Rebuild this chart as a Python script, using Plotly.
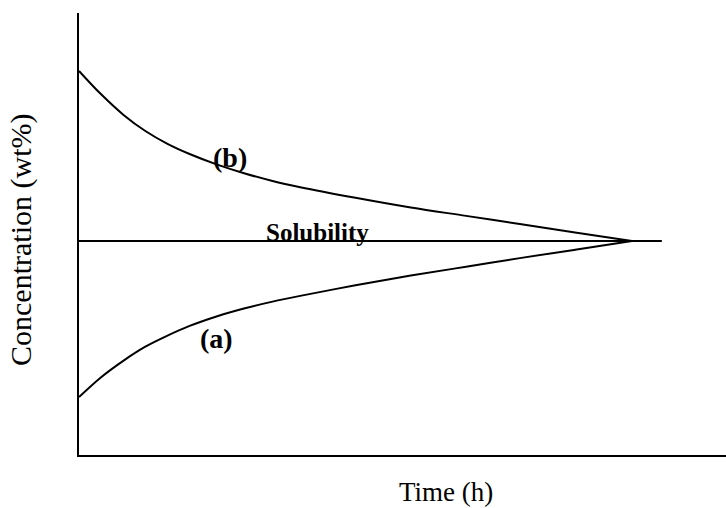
import plotly.graph_objects as go

# Time (h), arbitrary units
time_h = [0, 0.4, 0.8, 1.2, 1.6, 2.0, 2.5, 3.0, 3.5, 4, 5, 6, 7, 8, 9, 10]
conc_b = [8.69, 8.16, 7.70, 7.33, 7.04, 6.81, 6.57, 6.37, 6.20, 6.06, 5.82, 5.60, 5.41, 5.22, 5.03, 4.84]
conc_a = [1.31, 1.76, 2.13, 2.45, 2.70, 2.92, 3.14, 3.32, 3.47, 3.60, 3.84, 4.06, 4.26, 4.46, 4.65, 4.84]
sol_time = [0, 10.54]
sol_conc = [4.84, 4.84]

FONT = "Liberation Serif"
line_style = dict(color="black", width=2)

fig = go.Figure()
fig.add_trace(go.Scatter(x=time_h, y=conc_b, mode="lines",
                         line=dict(shape="spline", smoothing=1.0, **line_style)))
fig.add_trace(go.Scatter(x=time_h, y=conc_a, mode="lines",
                         line=dict(shape="spline", smoothing=1.0, **line_style)))
fig.add_trace(go.Scatter(x=sol_time, y=sol_conc, mode="lines", line=line_style))

fig.add_annotation(x=2.73, y=6.72, text="<b>(b)</b>", showarrow=False,
                   font=dict(family=FONT, size=28, color="black"))
fig.add_annotation(x=2.48, y=2.64, text="<b>(a)</b>", showarrow=False,
                   font=dict(family=FONT, size=28, color="black"))
fig.add_annotation(x=4.32, y=4.84, text="<b>Solubility</b>", showarrow=False,
                   yanchor="bottom", yshift=-7,
                   font=dict(family=FONT, size=25, color="black"))

fig.add_annotation(xref="paper", yref="paper", x=0.567, y=-0.083, text="Time (h)",
                   showarrow=False, yanchor="middle",
                   font=dict(family=FONT, size=27, color="black"))
fig.add_annotation(xref="paper", yref="paper", x=-0.09, y=0.486, text="Concentration (wt%)",
                   showarrow=False, textangle=-90, xanchor="center",
                   font=dict(family=FONT, size=30, color="black"))

fig.update_layout(
    width=726, height=508,
    margin=dict(l=79, r=0, t=13, b=53),
    paper_bgcolor="white", plot_bgcolor="white",
    showlegend=False,
    xaxis=dict(range=[0, 11.7], showline=True, linecolor="black", linewidth=2,
               showgrid=False, zeroline=False, showticklabels=False, ticks=""),
    yaxis=dict(range=[0, 10], showline=True, linecolor="black", linewidth=2,
               showgrid=False, zeroline=False, showticklabels=False, ticks=""),
)

fig.write_html("out.html")
